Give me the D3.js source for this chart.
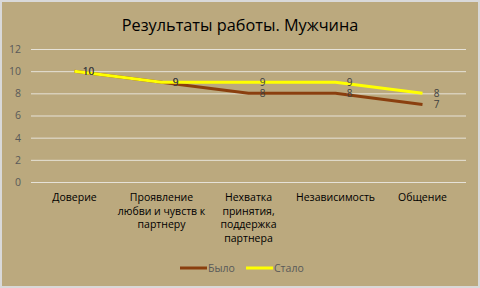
<!DOCTYPE html>
<html>
<head>
<meta charset="utf-8">
<script src="https://cdn.jsdelivr.net/npm/d3@7"></script>
<style>
  body { margin: 0; background: #fff; }
  svg { display: block; font-family: "Open Sans", "Noto Sans", sans-serif; }
</style>
</head>
<body>
<svg id="chart" width="480" height="288"></svg>
<script>
const categories = [
  ["Доверие"],
  ["Проявление", "любви и чувств к", "партнеру"],
  ["Нехватка", "принятия,", "поддержка", "партнера"],
  ["Независимость"],
  ["Общение"]
];
const bylo = [10, 9, 8, 8, 7];
const stalo = [10, 9, 9, 9, 8];
const yTicks = [0, 2, 4, 6, 8, 10, 12];
const series = [
  { name: "Было", values: bylo, color: "#8a3f0e" },
  { name: "Стало", values: stalo, color: "#ffff00" }
];

const svg = d3.select("#chart");
const W = 480, H = 288;
const margin = { left: 31, right: 14, top: 49, bottom: 106 };

svg.append("rect")
  .attr("x", 1).attr("y", 1).attr("width", W - 2).attr("height", H - 2)
  .attr("fill", "#bba97e").attr("stroke", "#d9d9d9").attr("stroke-width", 2);

svg.append("text")
  .attr("x", 240).attr("y", 31)
  .attr("text-anchor", "middle")
  .attr("font-size", 16.3)
  .attr("fill", "#000")
  .text("Результаты работы. Мужчина");

const x = d3.scalePoint()
  .domain(d3.range(categories.length))
  .range([margin.left, W - margin.right])
  .padding(0.5);
const y = d3.scaleLinear().domain([0, 12]).range([H - margin.bottom, margin.top]);

// gridlines + y labels
const yAxis = d3.axisLeft(y).tickValues(yTicks).tickSize(-(W - margin.left - margin.right)).tickPadding(10);
const gy = svg.append("g").attr("transform", `translate(${margin.left},0)`).call(yAxis);
gy.select(".domain").remove();
gy.selectAll("line").attr("stroke", "#e6e2d8").attr("stroke-width", 1);
gy.selectAll("text").attr("fill", "#595959").attr("font-size", 10.5).attr("font-family", "Open Sans, sans-serif");

// category labels
const cat = svg.append("g");
categories.forEach((lines, i) => {
  const t = cat.append("text")
    .attr("x", x(i)).attr("y", 201)
    .attr("text-anchor", "middle")
    .attr("font-size", 10.5)
    .attr("fill", "#000");
  lines.forEach((ln, j) => {
    t.append("tspan").attr("x", x(i)).attr("dy", j === 0 ? 0 : 13.5).text(ln);
  });
});

// lines
const line = d3.line().x((d, i) => x(i)).y(d => y(d));
series.forEach(s => {
  svg.append("path")
    .datum(s.values)
    .attr("d", line)
    .attr("fill", "none")
    .attr("stroke", s.color)
    .attr("stroke-width", 3);
});

// data labels (right of points)
series.forEach(s => {
  svg.append("g").selectAll("text")
    .data(s.values)
    .join("text")
    .attr("x", (d, i) => x(i) + 14)
    .attr("y", d => y(d) + 3.5)
    .attr("text-anchor", "middle")
    .attr("font-size", 10)
    .attr("fill", "#404040")
    .text(d => d);
});

// legend
const legend = svg.append("g");
const legendX = [180, 246];
series.forEach((s, i) => {
  legend.append("line")
    .attr("x1", legendX[i]).attr("x2", legendX[i] + 27)
    .attr("y1", 268).attr("y2", 268)
    .attr("stroke", s.color).attr("stroke-width", 3);
  legend.append("text")
    .attr("x", legendX[i] + 28).attr("y", 272)
    .attr("font-size", 10.5)
    .attr("fill", "#595959")
    .text(s.name);
});
</script>
</body>
</html>
